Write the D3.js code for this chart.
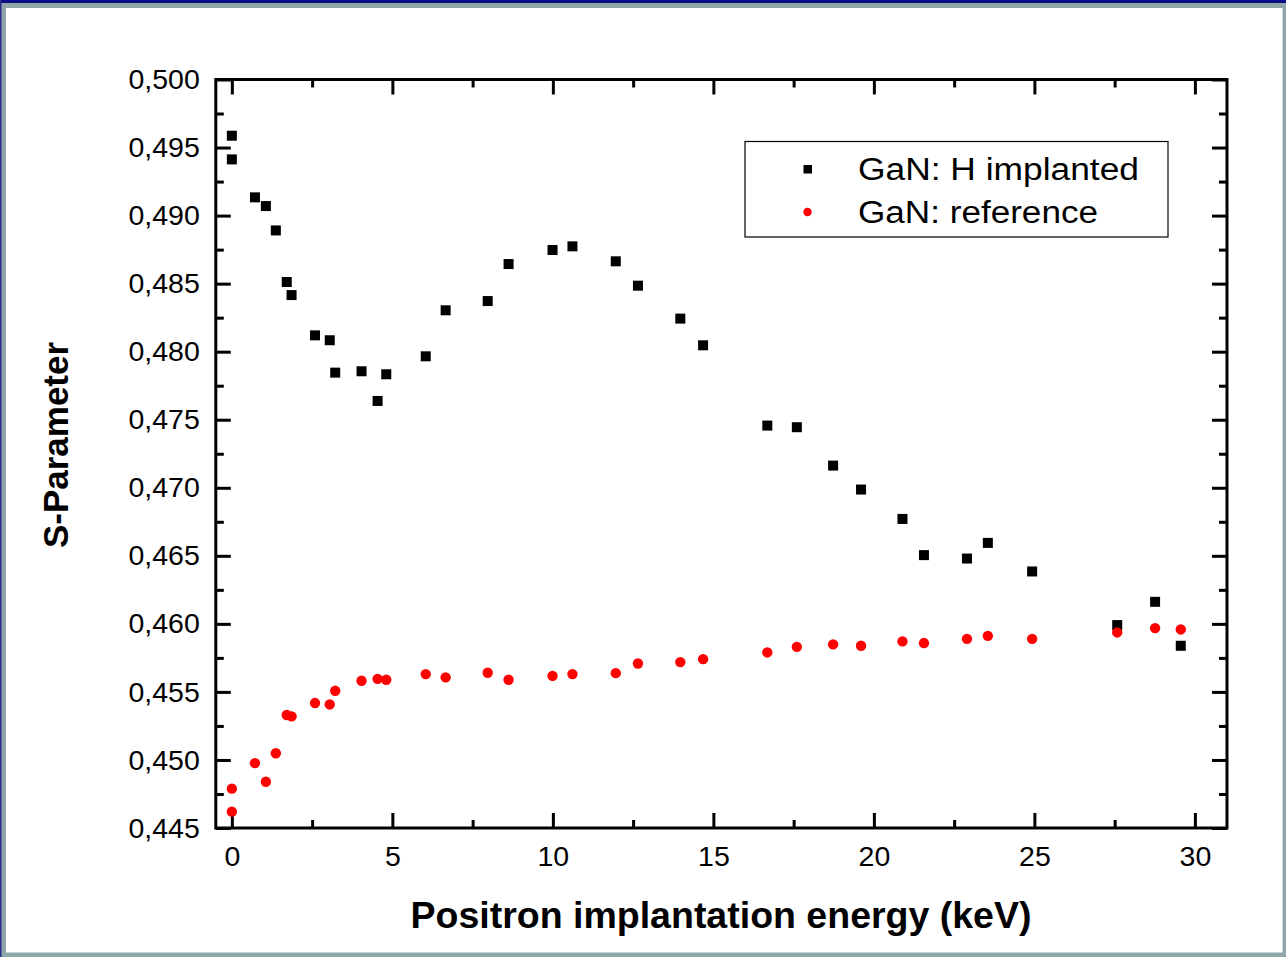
<!DOCTYPE html>
<html>
<head>
<meta charset="utf-8">
<script src="https://cdn.jsdelivr.net/npm/d3@7"></script>
<style>
  html, body { margin: 0; padding: 0; background: #8fa7a9; }
  svg { display: block; }
</style>
</head>
<body>
<svg id="chart" width="1286" height="957"></svg>
<script>
// ---- data ----
const energy = [0, 0, 0.72, 1.06, 1.37, 1.71, 1.86, 2.59, 3.05, 3.22, 4.04, 4.54, 4.81, 6.04, 6.66,
  7.97, 8.62, 9.99, 10.61, 11.96, 12.65, 13.97, 14.68, 16.68, 17.60, 18.73, 19.60, 20.89, 21.56,
  22.90, 23.55, 24.93, 27.58, 28.76, 29.56];
const sImplanted = [0.49587, 0.49413, 0.49134, 0.49070, 0.48891, 0.48512, 0.48416, 0.48120, 0.48084,
  0.47846, 0.47856, 0.47638, 0.47834, 0.47966, 0.48304, 0.48372, 0.48644, 0.48747, 0.48774, 0.48664,
  0.48485, 0.48243, 0.48047, 0.47457, 0.47445, 0.47163, 0.46987, 0.46771, 0.46505, 0.46480, 0.46595,
  0.46385, 0.45991, 0.46162, 0.45839];
const sReference = [0.44789, 0.44620, 0.44977, 0.44840, 0.45049, 0.45330, 0.45320, 0.45418, 0.45408,
  0.45508, 0.45582, 0.45596, 0.45589, 0.45631, 0.45607, 0.45641, 0.45589, 0.45618, 0.45631, 0.45638,
  0.45709, 0.45719, 0.45741, 0.45790, 0.45831, 0.45849, 0.45839, 0.45871, 0.45859, 0.45890, 0.45912,
  0.45890, 0.45937, 0.45969, 0.45959];
const seriesNames = ["GaN: H implanted", "GaN: reference"];
const xMajorTicks = [0, 5, 10, 15, 20, 25, 30];
const xMinorTicks = [2.5, 7.5, 12.5, 17.5, 22.5, 27.5];
const yMajorTicks = [0.445, 0.450, 0.455, 0.460, 0.465, 0.470, 0.475, 0.480, 0.485, 0.490, 0.495, 0.500];
const yMinorTicks = [0.4475, 0.4525, 0.4575, 0.4625, 0.4675, 0.4725, 0.4775, 0.4825, 0.4875, 0.4925, 0.4975];
const xTitle = "Positron implantation energy (keV)";
const yTitle = "S-Parameter";

// ---- layout ----
const svg = d3.select("#chart");
const L = 215.8, R = 1227, T = 79.5, B = 828;
const x = d3.scaleLinear().domain([-0.5, 31]).range([L, R]);
const y = d3.scaleLinear().domain([0.445, 0.500]).range([B, T]);
const font = "Arial, 'Liberation Sans', sans-serif";

// window frame
svg.append("rect").attr("x", 0).attr("y", 0).attr("width", 1286).attr("height", 957).attr("fill", "#8fa7a9");
svg.append("rect").attr("x", 0).attr("y", 0).attr("width", 1286).attr("height", 3).attr("fill", "#0b0b85");
svg.append("rect").attr("x", 0).attr("y", 0).attr("width", 1.5).attr("height", 957).attr("fill", "#2a2a8a");
svg.append("rect").attr("x", 6).attr("y", 8).attr("width", 1276.5).attr("height", 944.5).attr("fill", "#ffffff");

const fmt = d => d3.format(".3f")(d).replace(".", ",");

function styleAxis(g) {
  g.selectAll(".domain").remove();
  g.selectAll(".tick line").attr("stroke", "#000").attr("stroke-width", 3);
  g.selectAll("text").attr("font-family", font).attr("font-size", 28.5).attr("fill", "#000");
}

// bottom
svg.append("g").attr("transform", `translate(0,${B})`)
  .call(d3.axisBottom(x).tickValues(xMajorTicks).tickSizeInner(-15).tickSizeOuter(0).tickPadding(18).tickFormat(d3.format("d")))
  .call(styleAxis);
svg.append("g").attr("transform", `translate(0,${B})`)
  .call(d3.axisBottom(x).tickValues(xMinorTicks).tickSizeInner(-8).tickSizeOuter(0).tickFormat(""))
  .call(styleAxis);
// top
svg.append("g").attr("transform", `translate(0,${T})`)
  .call(d3.axisTop(x).tickValues(xMajorTicks).tickSizeInner(-15).tickSizeOuter(0).tickFormat(""))
  .call(styleAxis);
svg.append("g").attr("transform", `translate(0,${T})`)
  .call(d3.axisTop(x).tickValues(xMinorTicks).tickSizeInner(-8).tickSizeOuter(0).tickFormat(""))
  .call(styleAxis);
// left
svg.append("g").attr("transform", `translate(${L},0)`)
  .call(d3.axisLeft(y).tickValues(yMajorTicks).tickSizeInner(-15).tickSizeOuter(0).tickPadding(16).tickFormat(fmt))
  .call(styleAxis);
svg.append("g").attr("transform", `translate(${L},0)`)
  .call(d3.axisLeft(y).tickValues(yMinorTicks).tickSizeInner(-8).tickSizeOuter(0).tickFormat(""))
  .call(styleAxis);
// right
svg.append("g").attr("transform", `translate(${R},0)`)
  .call(d3.axisRight(y).tickValues(yMajorTicks).tickSizeInner(-15).tickSizeOuter(0).tickFormat(""))
  .call(styleAxis);
svg.append("g").attr("transform", `translate(${R},0)`)
  .call(d3.axisRight(y).tickValues(yMinorTicks).tickSizeInner(-8).tickSizeOuter(0).tickFormat(""))
  .call(styleAxis);

// frame
svg.append("rect").attr("x", L).attr("y", T).attr("width", R - L).attr("height", B - T)
  .attr("fill", "none").attr("stroke", "#000").attr("stroke-width", 3);

// data
const implanted = energy.map((e, i) => ({ e, s: sImplanted[i] }));
const reference = energy.map((e, i) => ({ e, s: sReference[i] }));
const sq = 10;
svg.append("g").selectAll("rect").data(implanted).join("rect")
  .attr("x", d => x(d.e) - sq / 2).attr("y", d => y(d.s) - sq / 2)
  .attr("width", sq).attr("height", sq).attr("fill", "#000");
svg.append("g").selectAll("circle").data(reference).join("circle")
  .attr("cx", d => x(d.e)).attr("cy", d => y(d.s)).attr("r", 5.2).attr("fill", "#ff0000");

// legend
const lg = svg.append("g");
lg.append("rect").attr("x", 745).attr("y", 141.5).attr("width", 423).attr("height", 95.5)
  .attr("fill", "#fff").attr("stroke", "#000").attr("stroke-width", 1.2);
lg.append("rect").attr("x", 803.5).attr("y", 165).attr("width", 8.5).attr("height", 8.5).attr("fill", "#000");
lg.append("circle").attr("cx", 807.5).attr("cy", 212).attr("r", 4.2).attr("fill", "#ff0000");
lg.append("text").attr("x", 858).attr("y", 180).text(seriesNames[0])
  .attr("font-family", font).attr("font-size", 31).attr("textLength", 281).attr("lengthAdjust", "spacingAndGlyphs");
lg.append("text").attr("x", 858).attr("y", 223).text(seriesNames[1])
  .attr("font-family", font).attr("font-size", 31).attr("textLength", 240).attr("lengthAdjust", "spacingAndGlyphs");

// titles
svg.append("text").attr("x", 721).attr("y", 928).attr("text-anchor", "middle")
  .attr("font-family", font).attr("font-weight", "bold").attr("font-size", 37.5).text(xTitle);
svg.append("text").attr("transform", "translate(68,445) rotate(-90)").attr("text-anchor", "middle")
  .attr("font-family", font).attr("font-weight", "bold").attr("font-size", 35).text(yTitle);
</script>
</body>
</html>
